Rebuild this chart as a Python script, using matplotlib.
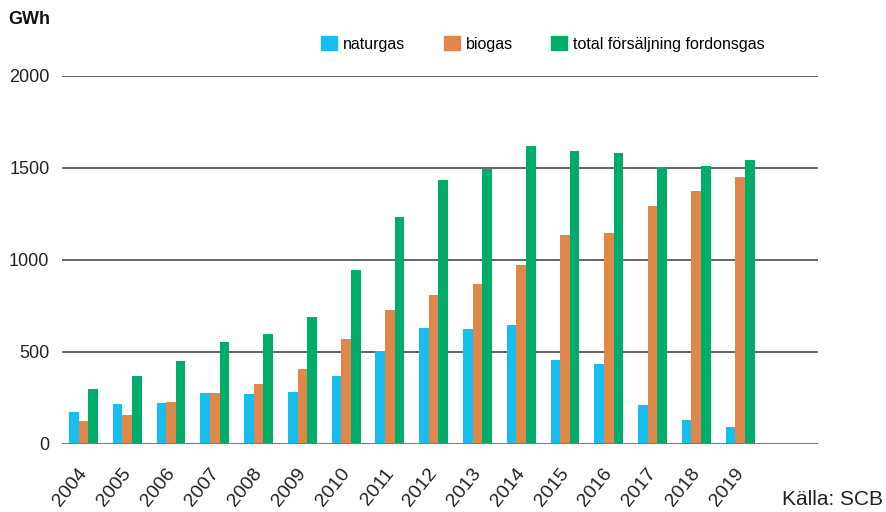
import numpy as np
import matplotlib.pyplot as plt
from matplotlib.patches import Patch
from matplotlib.transforms import ScaledTranslation

plt.rcParams['font.family'] = ['Liberation Sans', 'DejaVu Sans']

years = ['2004', '2005', '2006', '2007', '2008', '2009', '2010', '2011',
         '2012', '2013', '2014', '2015', '2016', '2017', '2018', '2019']
naturgas = [175, 216, 223, 277, 270, 284, 372, 505,
            629, 625, 645, 458, 433, 212, 130, 91]
biogas = [125, 156, 228, 275, 326, 408, 572, 728,
          808, 870, 973, 1134, 1147, 1292, 1377, 1451]
total = [300, 368, 451, 553, 596, 692, 946, 1232,
         1435, 1495, 1618, 1592, 1580, 1504, 1509, 1542]

labels = ['naturgas', 'biogas', 'total försäljning fordonsgas']
colors = ['#17BFEE', '#E0874A', '#00AC69']

fig = plt.figure(figsize=(8.87, 5.12), dpi=100)
ax = fig.add_axes([62 / 887, 68 / 512, 756 / 887, 368 / 512])

x = np.arange(len(years))
width = 0.22
for i, (vals, col) in enumerate(zip([naturgas, biogas, total], colors)):
    ax.bar(x + (i - 1) * width, vals, width, color=col, zorder=3)

#
# Axis and grid
ax.set_xlim(-0.49, 16.78)
ax.set_ylim(0, 2000)
ax.set_yticks([0, 500, 1000, 1500, 2000])
for v in [500, 1000, 1500, 2000]:
    ax.axhline(v, color='#4a4a4a', lw=1.2, zorder=1)
ax.axhline(0, color='#7a7a7a', lw=2.2, zorder=4)
for s in ax.spines.values():
    s.set_visible(False)

ax.tick_params(axis='y', length=0, pad=9, labelsize=13, labelcolor='#222222')
ax.tick_params(axis='x', length=0, pad=15, labelsize=14, labelcolor='#222222')
ax.set_xticks(x)
ax.set_xticklabels(years, rotation=51, ha='right', rotation_mode='anchor')
# nudge the rotated year labels a little to the left
shift = ScaledTranslation(-6 / 100, 0, fig.dpi_scale_trans)
for lbl in ax.get_xticklabels():
    lbl.set_transform(lbl.get_transform() + shift)

#
# Texts
fig.text(8 / 887, 1 - 11 / 512, 'GWh', fontsize=13, fontweight='bold',
         ha='left', va='top', color='#111111')
fig.text(883 / 887, 3 / 512, 'Källa: SCB', fontsize=15, ha='right',
         va='bottom', color='#222222')

handles = [Patch(color=c) for c in colors]
fig.legend(handles, labels, loc='center left', ncol=3, frameon=False,
           bbox_to_anchor=(321 / 887, 1 - 44 / 512), fontsize=11.5,
           handlelength=1.0, handleheight=0.9, handletextpad=0.38,
           columnspacing=2.4, borderaxespad=0, borderpad=0)

fig.savefig('out.png', dpi=100)
